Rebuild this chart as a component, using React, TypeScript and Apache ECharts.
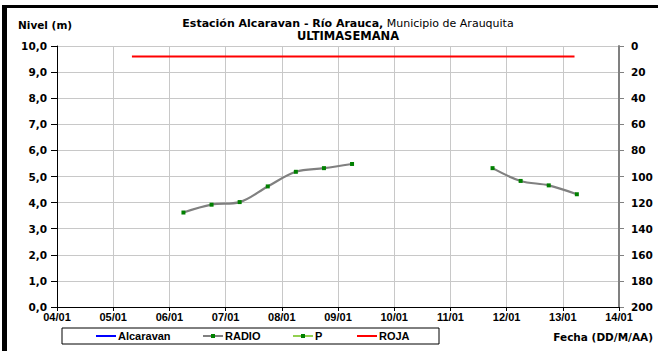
import React, { useEffect, useRef } from "react";
import * as echarts from "echarts";

const dayTicks = ["04/01", "05/01", "06/01", "07/01", "08/01", "09/01", "10/01", "11/01", "12/01", "13/01", "14/01"];
const leftTicks = [0, 1, 2, 3, 4, 5, 6, 7, 8, 9, 10];
const rightTicks = [0, 20, 40, 60, 80, 100, 120, 140, 160, 180, 200];
const seriesNames = ["Alcaravan", "RADIO", "P", "ROJA"];
const radioTimes = [
  "06/01 06:00", "06/01 18:00", "07/01 06:00", "07/01 18:00", "08/01 06:00", "08/01 18:00", "09/01 06:00",
  "09/01 18:00", "10/01 06:00", "10/01 18:00", "11/01 06:00",
  "11/01 18:00", "12/01 06:00", "12/01 18:00", "13/01 06:00",
];
const radioLevels: (number | null)[] = [3.62, 3.92, 4.02, 4.62, 5.18, 5.32, 5.48, null, null, null, null, 5.32, 4.83, 4.66, 4.32];
const rojaTimes = ["05/01 08:00", "13/01 05:00"];
const rojaLevels = [9.6, 9.6];
const alcaravanLevels: number[] = [];
const pLevels: number[] = [];

const baseDay = parseInt(dayTicks[0].split("/")[0], 10);
function toDay(s: string): number {
  const [d, t] = s.split(" ");
  const dd = parseInt(d.split("/")[0], 10);
  const [hh, mm] = t.split(":").map((x) => parseInt(x, 10));
  return dd - baseDay + hh / 24 + mm / 1440;
}

const ARIAL = "Arial, 'Liberation Sans', sans-serif";
const WIDE = "'DejaVu Sans', sans-serif";

const COLORS = ["#0000ff", "#808080", "#92d050", "#ff0000"];
const MARKER = "#008000";

export default function App() {
  const ref = useRef<HTMLDivElement>(null);
  useEffect(() => {
    document.body.style.margin = "0";
    const chart = echarts.init(ref.current!, null, { renderer: "svg" });
    const xLab = { fontFamily: ARIAL, fontWeight: "bold" as const, fontSize: 11, color: "#000" };
    const yLab = { fontFamily: WIDE, fontWeight: "bold" as const, fontSize: 10.5, color: "#000" };

    const legendX = [96, 203, 293, 357];
    const legendY = 336;
    const legendGraphics: any[] = [];
    seriesNames.forEach((name, i) => {
      const x = legendX[i];
      legendGraphics.push({
        type: "line",
        shape: { x1: x, y1: legendY, x2: x + 20, y2: legendY },
        style: { stroke: COLORS[i], lineWidth: 2 },
      });
      if (i === 1 || i === 2) {
        legendGraphics.push({
          type: "rect",
          shape: { x: x + 8, y: legendY - 2, width: 4, height: 4 },
          style: { fill: MARKER },
        });
      }
      legendGraphics.push({
        type: "text",
        x: x + 22,
        y: legendY,
        style: { text: name, font: `bold 11px ${ARIAL}`, fill: "#000", verticalAlign: "middle" },
      });
    });

    chart.setOption({
      animation: false,
      backgroundColor: "#fff",
      grid: { left: 57, right: 39, top: 46, bottom: 44 },
      xAxis: {
        type: "value",
        min: 0,
        max: dayTicks.length - 1,
        interval: 1,
        axisLine: { show: true, lineStyle: { color: "#000", width: 1 } },
        axisTick: { show: true, length: 4, lineStyle: { color: "#000" } },
        axisLabel: { ...xLab, margin: 4, formatter: (v: number) => dayTicks[Math.round(v)] ?? "" },
        splitLine: { show: true, lineStyle: { color: "#c8c8c8", width: 1 } },
      },
      yAxis: [
        {
          type: "value",
          min: leftTicks[0],
          max: leftTicks[leftTicks.length - 1],
          interval: 1,
          axisLine: { show: true, lineStyle: { color: "#000", width: 1 } },
          axisTick: { show: true, length: 6, lineStyle: { color: "#000" } },
          axisLabel: { ...yLab, margin: 10, formatter: (v: number) => v.toFixed(1).replace(".", ",") },
          splitLine: { show: true, lineStyle: { color: "#c8c8c8", width: 1 } },
        },
        {
          type: "value",
          position: "right",
          inverse: true,
          min: rightTicks[0],
          max: rightTicks[rightTicks.length - 1],
          interval: 20,
          axisLine: { show: true, lineStyle: { color: "#808080", width: 2 } },
          axisTick: { show: true, length: 5, lineStyle: { color: "#808080" } },
          axisLabel: { ...yLab, margin: 12 },
          splitLine: { show: false },
        },
      ],
      series: [
        {
          name: seriesNames[0],
          type: "line",
          data: alcaravanLevels,
          symbol: "none",
          lineStyle: { color: COLORS[0], width: 2 },
        },
        {
          name: seriesNames[1],
          type: "line",
          data: radioTimes.map((t, i) => [toDay(t), radioLevels[i] === null ? "-" : radioLevels[i]]),
          smooth: 0.35,
          connectNulls: false,
          symbol: "rect",
          symbolSize: 4,
          lineStyle: { color: COLORS[1], width: 2.2 },
          itemStyle: { color: MARKER, borderWidth: 0 },
        },
        {
          name: seriesNames[2],
          type: "line",
          data: pLevels,
          symbol: "rect",
          symbolSize: 4,
          lineStyle: { color: COLORS[2], width: 2 },
          itemStyle: { color: MARKER, borderWidth: 0 },
        },
        {
          name: seriesNames[3],
          type: "line",
          data: rojaTimes.map((t, i) => [toDay(t), rojaLevels[i]]),
          symbol: "none",
          lineStyle: { color: COLORS[3], width: 2 },
        },
      ],
      graphic: [
        { type: "rect", shape: { x: 3, y: 5, width: 655, height: 3 }, style: { fill: "#000" } },
        { type: "rect", shape: { x: 2, y: 5, width: 5, height: 346 }, style: { fill: "#000" } },
        {
          type: "rect",
          shape: { x: 62, y: 328, width: 377, height: 16 },
          style: { fill: "#fff", stroke: "#000", lineWidth: 1 },
        },
        ...legendGraphics,
        {
          type: "text",
          x: 18,
          y: 25,
          style: { text: "Nivel (m)", font: `bold 10.5px ${WIDE}`, fill: "#000", verticalAlign: "middle" },
        },
        {
          type: "text",
          x: 348,
          y: 23,
          style: {
            text: "{b|Estación Alcaravan - Río Arauca,}{n| Municipio de Arauquita}",
            align: "center",
            verticalAlign: "middle",
            rich: {
              b: { fontFamily: WIDE, fontWeight: "bold", fontSize: 11, fill: "#000" },
              n: { fontFamily: WIDE, fontWeight: "normal", fontSize: 11, fill: "#000" },
            },
          },
        },
        {
          type: "text",
          x: 348,
          y: 35.5,
          style: { text: "ULTIMASEMANA", font: `bold 11.5px ${WIDE}`, fill: "#000", align: "center", verticalAlign: "middle" },
        },
        {
          type: "text",
          x: 653,
          y: 337,
          style: { text: "Fecha (DD/M/AA)", font: `bold 10.5px ${WIDE}`, fill: "#000", align: "right", verticalAlign: "middle" },
        },
      ],
    });
    return () => chart.dispose();
  }, []);
  return <div ref={ref} style={{ width: 658, height: 351 }} />;
}
